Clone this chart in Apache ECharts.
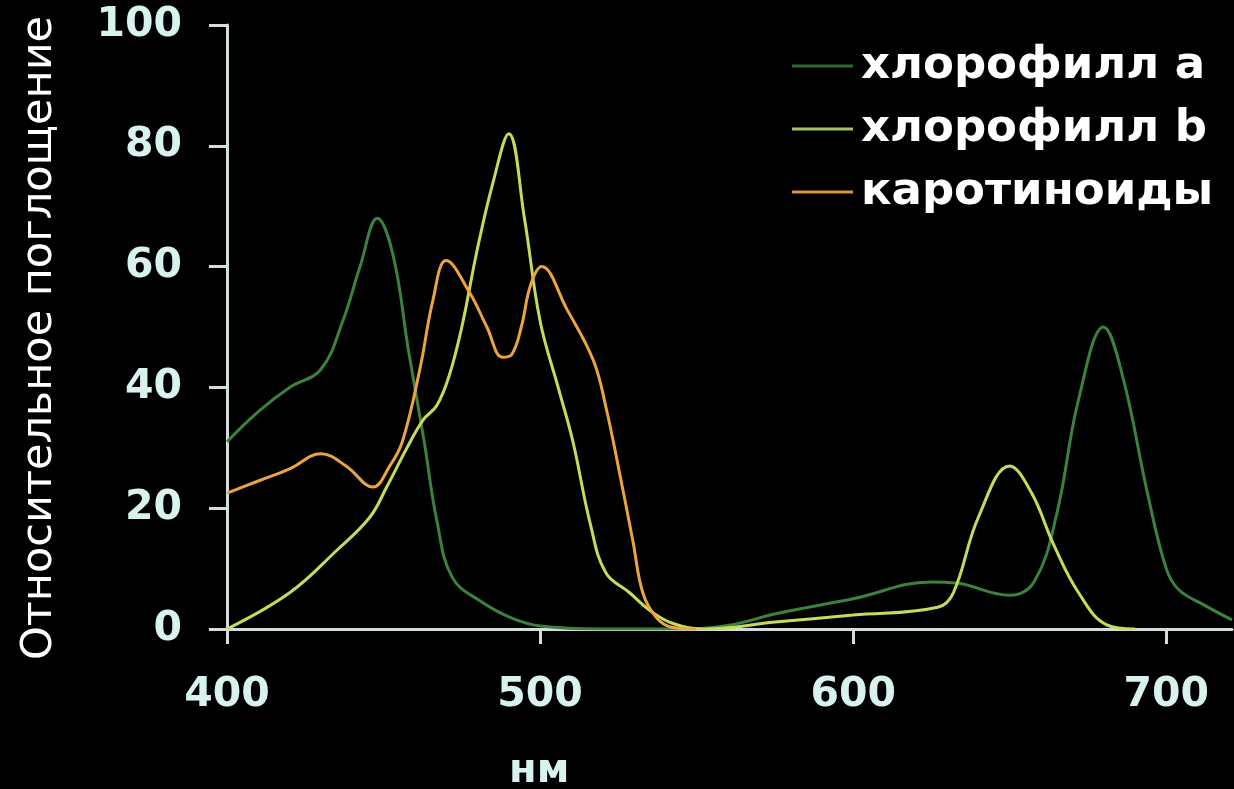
<!DOCTYPE html>
<html>
<head>
<meta charset="utf-8">
<script src="https://cdn.jsdelivr.net/npm/echarts@6/dist/echarts.min.js"></script>
<style>
  html, body { margin: 0; padding: 0; background: #000; }
  #chart { width: 1234px; height: 789px; }
</style>
</head>
<body>
<div id="chart"></div>
<script>
'use strict';
// Спектры поглощения пигментов

const X_TICKS = [400, 500, 600, 700];

// [нм, поглощение]
const CHL_A = [
  [400, 31], [410, 36], [420, 40], [430, 43], [437, 51], [442.5, 60], [448, 68],
  [453, 62], [458, 46], [463, 31], [467, 18], [472, 8.5],
  [481, 4.6], [491, 1.8], [500, 0.5], [520, 0], [545, 0], [560, 0.6], [576, 2.6],
  [600, 5], [625, 7.8], [633, 7.6], [650, 5.6], [658, 8], [665, 19], [672, 38],
  [680, 50], [686, 42], [694, 22.5], [700, 10], [704, 6.5], [712, 4], [721, 1.5]
];
const CHL_B = [
  [400, 0], [420, 6], [435, 13], [445.6, 18.5], [451, 23.5], [457.5, 30],
  [462.6, 34.6], [467, 37], [471, 42], [475, 50], [480, 63], [485, 74],
  [490, 82], [495, 68], [500, 51], [506, 39.6], [510.5, 31],
  [516, 17.5], [521, 9.3], [528.6, 6], [535, 3.1], [542, 1], [552, 0],
  [576, 1.2], [600, 2.3], [627, 3.6], [632, 6], [640, 18.5], [650, 27],
  [657, 22.5], [664, 14], [672, 6], [681, 0.7], [690, 0]
];
const CAROT = [
  [400, 22.5], [410, 24.5], [420, 26.5], [430, 29], [438, 27], [446.6, 23.5],
  [452, 27], [456, 31], [461.6, 43], [465.8, 54.5], [470, 61], [477.6, 55.6],
  [483, 50], [488, 45], [491, 45.5], [494, 50], [497, 57], [500.5, 60], [508.5, 53],
  [517, 44.5], [521, 36.8], [525.4, 25.8], [529.6, 14.7], [532.8, 6], [537, 2],
  [542, 0.3], [550, 0]
];

const NAMES = ['хлорофилл a', 'хлорофилл b', 'каротиноиды'];
const COLORS = ['#3b823c', '#c4dc58', '#eca43e'];
const LEGEND_COLORS = ['#2f6a30', '#a6c45e', '#d8963a'];

const AX = '#d4dcdc';
const LBL = '#d8f2ee';
const FONT = "'DejaVu Sans', Verdana, sans-serif";

const chart = echarts.init(document.getElementById('chart'));

function line(name, data, i) {
  return {
    name, type: 'line', data, smooth: 0.4, showSymbol: false,
    lineStyle: { color: COLORS[i], width: 3 }, itemStyle: { color: LEGEND_COLORS[i] },
    z: i === 0 ? 2 : 3
  };
}

chart.setOption({
  backgroundColor: '#000',
  animation: false,
  grid: { left: 227, right: 2, top: 25, bottom: 160, outerBoundsMode: 'none' },
  legend: {
    orient: 'vertical', left: 787, top: 36, icon: 'rect',
    itemWidth: 61, itemHeight: 3, itemGap: 13,
    textStyle: { color: '#fff', fontFamily: FONT, fontWeight: 'bold', fontSize: 45, lineHeight: 50, padding: [0, 0, 0, 3] },
    data: NAMES
  },
  xAxis: {
    type: 'value', min: 400, max: 721,
    axisLine: { lineStyle: { color: AX, width: 3 } },
    axisTick: { show: true, length: 15, lineStyle: { color: AX, width: 3 }, customValues: X_TICKS },
    axisLabel: { color: LBL, fontFamily: FONT, fontWeight: 'bold', fontSize: 41, margin: 46, customValues: X_TICKS },
    splitLine: { show: false }
  },
  yAxis: {
    type: 'value', min: 0, max: 100, interval: 20,
    name: 'Относительное поглощение', nameLocation: 'middle', nameGap: 166,
    nameTextStyle: { color: '#fff', fontFamily: FONT, fontSize: 43, padding: [0, 22, 0, 0] },
    axisLine: { show: true, lineStyle: { color: AX, width: 3 } },
    axisTick: { show: true, length: 18, lineStyle: { color: AX, width: 3 } },
    axisLabel: { color: LBL, fontFamily: FONT, fontWeight: 'bold', fontSize: 41, margin: 45 },
    splitLine: { show: false }
  },
  graphic: [{
    type: 'text', left: 509, top: 752,
    style: { text: 'нм', fill: LBL, font: "bold 40px 'DejaVu Sans'" }
  }],
  series: [line(NAMES[0], CHL_A, 0), line(NAMES[1], CHL_B, 1), line(NAMES[2], CAROT, 2)]
});

window.addEventListener('resize', () => chart.resize());
</script>
</body>
</html>
